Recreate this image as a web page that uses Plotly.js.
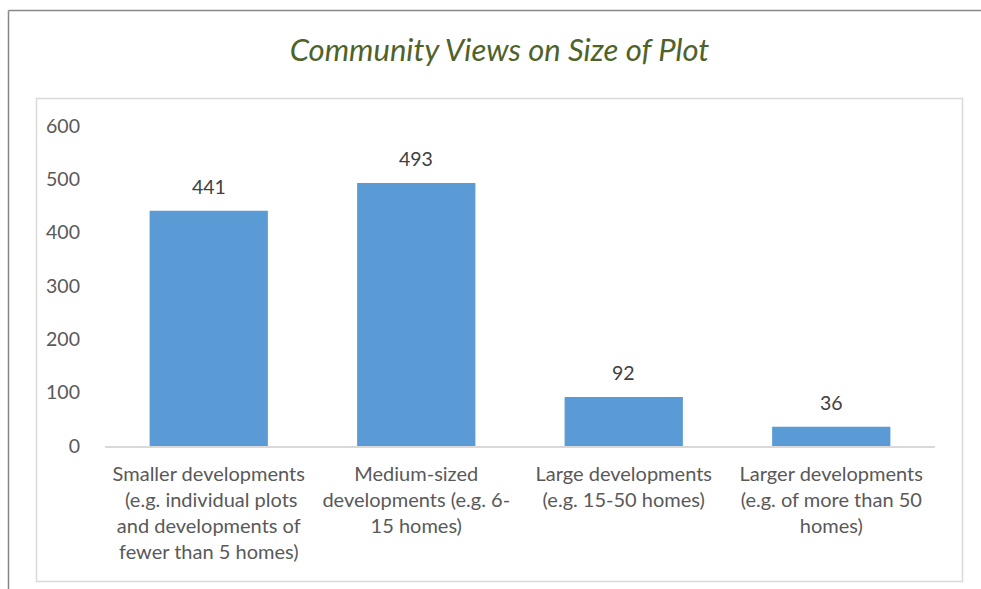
<!DOCTYPE html>
<html>
<head>
<meta charset="utf-8">
<script src="https://cdn.plot.ly/plotly-3.0.1.min.js"></script>
<style>html,body{margin:0;padding:0;background:#fff;}#chart{width:981px;height:589px;}</style>
</head>
<body>
<div id="chart"></div>
<script>
const categories = [
  "Smaller developments<br> (e.g. individual plots<br>and developments of<br>fewer than 5 homes)",
  "Medium-sized<br>developments (e.g. 6-<br>15 homes)",
  "Large developments<br>(e.g. 15-50 homes)",
  "Larger developments<br>(e.g. of more than 50<br>homes)"
];
const values = [441, 493, 92, 36];
const yTicks = [0, 100, 200, 300, 400, 500, 600];
const titleText = "Community Views on Size of Plot";

const W = 981, H = 589;
const L = 105, R = 935, T = 126, B = 446;
const px = x => (x - L) / (R - L);
const py = y => (B - y) / (B - T);

const FONT = "Lato, 'Noto Sans', sans-serif";

const trace = {
  type: 'bar',
  x: categories,
  y: values,
  marker: {color: '#5B9BD5'},
  hoverinfo: 'none'
};

const annotations = values.map((v, i) => ({
  x: categories[i], y: v, xref: 'x', yref: 'y',
  text: String(v), showarrow: false, yanchor: 'bottom', yshift: 11,
  font: {family: FONT, size: 19.5, color: '#404040'}
}));

const shapes = [
  {type: 'line', xref: 'paper', yref: 'paper', x0: px(8.5), x1: px(W + 5), y0: py(10.5), y1: py(10.5), line: {color: '#878787', width: 1.5}},
  {type: 'line', xref: 'paper', yref: 'paper', x0: px(8.5), x1: px(8.5), y0: py(10.5), y1: py(H + 5), line: {color: '#878787', width: 1.5}},
  {type: 'rect', xref: 'paper', yref: 'paper', x0: px(36.5), x1: px(962.5), y0: py(98.5), y1: py(581.5), line: {color: '#D9D9D9', width: 1.5}, fillcolor: 'rgba(0,0,0,0)'}
];

const layout = {
  width: W, height: H,
  margin: {l: L, r: W - R, t: T, b: H - B, pad: 0},
  paper_bgcolor: '#fff', plot_bgcolor: '#fff',
  showlegend: false,
  bargap: 0.43,
  title: {
    text: titleText,
    font: {family: FONT, size: 31, color: '#4F6228', style: 'italic'},
    x: px(499.5), xref: 'paper', xanchor: 'center',
    y: 1 - 50 / H, yref: 'container', yanchor: 'middle'
  },
  xaxis: {
    type: 'category',
    showline: true, linecolor: '#D9D9D9', linewidth: 1.5,
    showgrid: false, zeroline: false, ticks: '',
    tickfont: {family: FONT, size: 20, color: '#595959'},
    ticklabelstandoff: 9
  },
  yaxis: {
    range: [0, 600], tickvals: yTicks, ticktext: yTicks.map(String),
    showgrid: false, zeroline: false, showline: false, ticks: '',
    tickfont: {family: FONT, size: 19.5, color: '#595959'},
    ticklabelstandoff: 24
  },
  annotations: annotations,
  shapes: shapes
};

Plotly.newPlot('chart', [trace], layout, {staticPlot: true, displayModeBar: false});
</script>
</body>
</html>
